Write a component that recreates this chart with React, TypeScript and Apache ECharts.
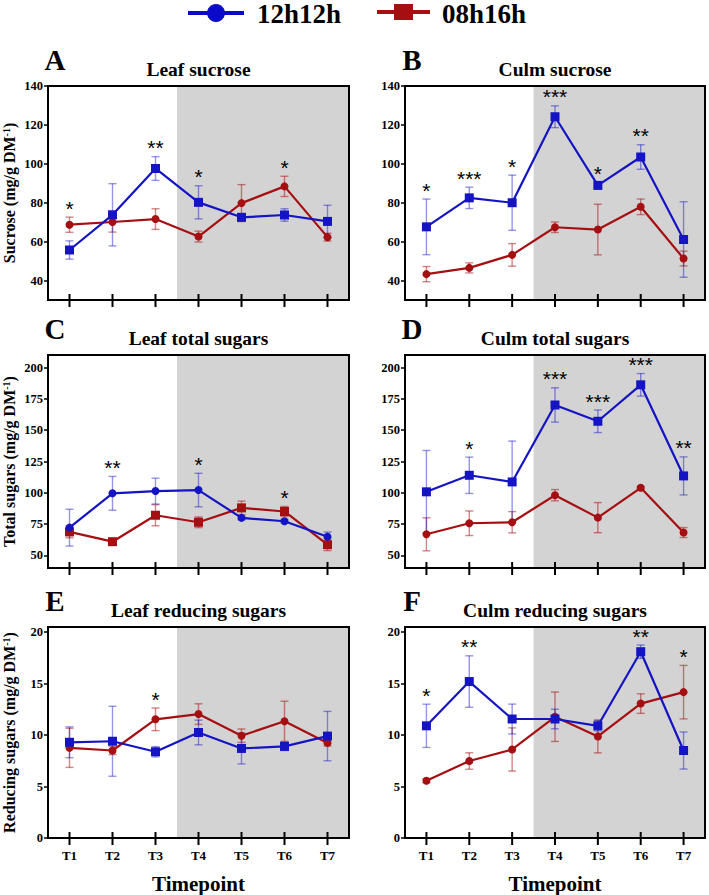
import React, { useEffect, useRef } from "react";
import * as echarts from "echarts";

const timepoints = ["T1", "T2", "T3", "T4", "T5", "T6", "T7"];
const seriesNames = ["12h12h", "08h16h"];

// A – Leaf sucrose
const leafSucrose12 = [55.7, 73.8, 97.6, 80.2, 72.5, 73.7, 70.4];
const leafSucrose12Err = [4.7, 16.0, 6.1, 8.5, 1.5, 3.2, 8.3];
const leafSucrose08 = [68.7, 70.1, 71.6, 62.6, 79.8, 88.4, 62.3];
const leafSucrose08Err = [3.9, 5.2, 5.3, 2.8, 9.5, 5.2, 2.0];
const leafSucroseSig = ["*", "", "**", "*", "", "*", ""];

// B – Culm sucrose
const culmSucrose12 = [67.6, 82.5, 80.0, 124.2, 88.9, 103.5, 61.1];
const culmSucrose12Err = [14.3, 5.5, 14.2, 5.6, 1.5, 6.3, 19.4];
const culmSucrose08 = [43.3, 46.5, 53.2, 67.4, 66.2, 77.9, 51.3];
const culmSucrose08Err = [3.9, 2.6, 5.8, 2.7, 13.0, 4.0, 3.8];
const culmSucroseSig = ["*", "***", "*", "***", "*", "**", ""];

// C – Leaf total sugars
const leafTotal12 = [72.2, 99.6, 101.4, 102.2, 80.0, 77.3, 65.0];
const leafTotal12Err = [14.7, 13.5, 10.3, 13.4, 1.5, 1.5, 3.7];
const leafTotal08 = [68.8, 61.0, 82.1, 76.5, 88.0, 85.1, 58.6];
const leafTotal08Err = [4.7, 1.5, 8.4, 4.3, 5.4, 4.0, 4.7];
const leafTotalSig = ["", "**", "", "*", "", "*", ""];

// D – Culm total sugars
const culmTotal12 = [100.8, 114.0, 108.7, 170.1, 157.1, 186.2, 113.5];
const culmTotal12Err = [33.0, 14.5, 32.6, 13.7, 9.0, 9.0, 15.2];
const culmTotal08 = [66.9, 75.7, 76.5, 98.1, 80.2, 104.0, 68.3];
const culmTotal08Err = [13.2, 9.8, 8.5, 4.5, 12.0, 1.0, 4.0];
const culmTotalSig = ["", "*", "", "***", "***", "***", "**"];

// E – Leaf reducing sugars
const leafReducing12 = [9.3, 9.4, 8.38, 10.25, 8.7, 8.9, 9.9];
const leafReducing12Err = [1.5, 3.4, 0.5, 1.2, 1.5, 0.4, 2.4];
const leafReducing08 = [8.76, 8.5, 11.53, 12.04, 9.94, 11.34, 9.24];
const leafReducing08Err = [1.9, 0.4, 1.1, 1.0, 0.65, 1.95, 0.3];
const leafReducingSig = ["", "", "*", "", "", "", ""];

// F – Culm reducing sugars
const culmReducing12 = [10.9, 15.2, 11.56, 11.56, 10.9, 18.1, 8.5];
const culmReducing12Err = [2.1, 2.5, 1.45, 0.95, 0.5, 0.65, 1.8];
const culmReducing08 = [5.57, 7.48, 8.6, 11.78, 9.87, 13.06, 14.17];
const culmReducing08Err = [0.2, 0.8, 2.1, 2.4, 1.6, 0.95, 2.6];
const culmReducingSig = ["*", "**", "", "", "", "**", "*"];

const sucroseTicks = [40, 60, 80, 100, 120, 140];
const totalTicks = [50, 75, 100, 125, 150, 175, 200];
const reducingTicks = [0, 5, 10, 15, 20];

const BLUE = "#1414c4";
const RED = "#a50f12";
const SHADE = "#d3d3d3";
const SERIF = '"Liberation Serif", "Times New Roman", serif';
const SANS = '"Liberation Sans", Arial, sans-serif';

type Panel = {
  letter: string;
  title: string;
  yName: string | null;
  blue: number[];
  blueErr: number[];
  red: number[];
  redErr: number[];
  sig: string[];
  blueSym: string;
  redSym: string;
  yMin: number;
  yMax: number;
  yTicks: number[];
  col: number;
  row: number;
};

const panels: Panel[] = [
  { letter: "A", title: "Leaf sucrose", yName: "Sucrose (mg/g DM{sup|-1})", blue: leafSucrose12, blueErr: leafSucrose12Err, red: leafSucrose08, redErr: leafSucrose08Err, sig: leafSucroseSig, blueSym: "rect", redSym: "circle", yMin: 30, yMax: 140, yTicks: sucroseTicks, col: 0, row: 0 },
  { letter: "B", title: "Culm sucrose", yName: null, blue: culmSucrose12, blueErr: culmSucrose12Err, red: culmSucrose08, redErr: culmSucrose08Err, sig: culmSucroseSig, blueSym: "rect", redSym: "circle", yMin: 30, yMax: 140, yTicks: sucroseTicks, col: 1, row: 0 },
  { letter: "C", title: "Leaf total sugars", yName: "Total sugars (mg/g DM{sup|-1})", blue: leafTotal12, blueErr: leafTotal12Err, red: leafTotal08, redErr: leafTotal08Err, sig: leafTotalSig, blueSym: "circle", redSym: "rect", yMin: 40, yMax: 210, yTicks: totalTicks, col: 0, row: 1 },
  { letter: "D", title: "Culm total sugars", yName: null, blue: culmTotal12, blueErr: culmTotal12Err, red: culmTotal08, redErr: culmTotal08Err, sig: culmTotalSig, blueSym: "rect", redSym: "circle", yMin: 40, yMax: 210, yTicks: totalTicks, col: 1, row: 1 },
  { letter: "E", title: "Leaf reducing sugars", yName: "Reducing sugars (mg/g DM{sup|-1})", blue: leafReducing12, blueErr: leafReducing12Err, red: leafReducing08, redErr: leafReducing08Err, sig: leafReducingSig, blueSym: "rect", redSym: "circle", yMin: 0, yMax: 20.5, yTicks: reducingTicks, col: 0, row: 2 },
  { letter: "F", title: "Culm reducing sugars", yName: null, blue: culmReducing12, blueErr: culmReducing12Err, red: culmReducing08, redErr: culmReducing08Err, sig: culmReducingSig, blueSym: "rect", redSym: "circle", yMin: 0, yMax: 20.5, yTicks: reducingTicks, col: 1, row: 2 },
];

const colLeft = [48, 405];
const colWidth = [301, 300];
const rowTop = [86, 355, 627];
const rowHeight = [214, 213, 215];

function buildOption() {
  const grid: any[] = [];
  const xAxis: any[] = [];
  const yAxis: any[] = [];
  const series: any[] = [];
  const graphic: any[] = [];
  const xs = timepoints.map((_, i) => i + 1);

  panels.forEach((p, gi) => {
    const left = colLeft[p.col];
    const top = rowTop[p.row];
    const width = colWidth[p.col];
    const height = rowHeight[p.row];
    const bottomRow = p.row === 2;
    grid.push({ left, top, width, height, show: true, borderColor: "#000", borderWidth: 2, backgroundColor: "transparent", z: 10 });
    xAxis.push({
      gridIndex: gi,
      type: "value",
      min: 0.5,
      max: 7.5,
      splitLine: { show: false },
      axisLine: { show: true, lineStyle: { color: "#000", width: 2 } },
      axisTick: { show: false },
      axisLabel: {
        show: bottomRow,
        customValues: xs,
        formatter: (v: number) => timepoints[Math.round(v) - 1],
        fontFamily: SERIF,
        fontWeight: "bold",
        fontSize: 13,
        color: "#000",
        margin: 11,
      },
      name: bottomRow ? "Timepoint" : "",
      nameLocation: "middle",
      nameGap: 35,
      nameTextStyle: { fontFamily: SERIF, fontWeight: "bold", fontSize: 21, color: "#000" },
    });
    yAxis.push({
      gridIndex: gi,
      type: "value",
      min: p.yMin,
      max: p.yMax,
      splitLine: { show: false },
      axisLine: { show: true, lineStyle: { color: "#000", width: 2 } },
      axisTick: { show: true, customValues: p.yTicks, length: 4, lineStyle: { color: "#000", width: 1.5 } },
      axisLabel: { customValues: p.yTicks, fontFamily: SERIF, fontWeight: "bold", fontSize: 12.5, color: "#000", margin: 5 },
      name: p.yName || "",
      nameLocation: "middle",
      nameGap: 31,
      nameTextStyle: {
        fontFamily: SERIF,
        fontWeight: "bold",
        fontSize: 16,
        color: "#000",
        rich: { sup: { fontFamily: SERIF, fontWeight: "bold", fontSize: 10, color: "#000", verticalAlign: "top" } },
      },
    });

    // shaded region
    series.push({
      type: "line",
      xAxisIndex: gi,
      yAxisIndex: gi,
      data: [[1, p.yMin]],
      symbol: "none",
      lineStyle: { opacity: 0 },
      silent: true,
      z: 1,
      markArea: {
        silent: true,
        itemStyle: { color: SHADE },
        data: [[{ xAxis: 3.5 }, { xAxis: 7.5 }]],
      },
    });

    const errSeries = (vals: number[], errs: number[], color: string, opacity: number) => ({
      type: "custom",
      xAxisIndex: gi,
      yAxisIndex: gi,
      silent: true,
      z: 3,
      data: vals.map((v, i) => [i + 1, v, errs[i]]),
      encode: { x: 0, y: 1 },
      renderItem: (params: any, api: any) => {
        const x = api.value(0);
        const y = api.value(1);
        const e = api.value(2);
        const t = api.coord([x, y + e]);
        const b = api.coord([x, y - e]);
        const hw = 4;
        const st = { stroke: color, lineWidth: 1.4, opacity };
        return {
          type: "group",
          children: [
            { type: "line", shape: { x1: t[0], y1: t[1], x2: b[0], y2: b[1] }, style: st },
            { type: "line", shape: { x1: t[0] - hw, y1: t[1], x2: t[0] + hw, y2: t[1] }, style: st },
            { type: "line", shape: { x1: b[0] - hw, y1: b[1], x2: b[0] + hw, y2: b[1] }, style: st },
          ],
        };
      },
    });
    series.push(errSeries(p.red, p.redErr, RED, 0.5));
    series.push(errSeries(p.blue, p.blueErr, BLUE, 0.45));

    series.push({
      type: "line",
      name: seriesNames[1],
      xAxisIndex: gi,
      yAxisIndex: gi,
      data: p.red.map((v, i) => [i + 1, v]),
      symbol: p.redSym,
      symbolSize: p.redSym === "rect" ? 9 : 8,
      lineStyle: { color: RED, width: 2.2 },
      itemStyle: { color: RED },
      z: 4,
    });
    series.push({
      type: "line",
      name: seriesNames[0],
      xAxisIndex: gi,
      yAxisIndex: gi,
      data: p.blue.map((v, i) => [i + 1, v]),
      symbol: p.blueSym,
      symbolSize: p.blueSym === "rect" ? 9 : 8,
      lineStyle: { color: BLUE, width: 2.2 },
      itemStyle: { color: BLUE },
      z: 5,
    });

    // significance stars
    const sigData = p.sig.map((s, i) => [i + 1, Math.max(p.blue[i] + p.blueErr[i], p.red[i] + p.redErr[i])]);
    series.push({
      type: "custom",
      xAxisIndex: gi,
      yAxisIndex: gi,
      silent: true,
      z: 6,
      data: sigData,
      encode: { x: 0, y: 1 },
      renderItem: (params: any, api: any) => {
        const s = p.sig[params.dataIndex];
        if (!s) return null;
        const c = api.coord([api.value(0), api.value(1)]);
        return {
          type: "text",
          x: c[0],
          y: c[1] - 9,
          style: { text: s, fontFamily: SANS, fontSize: 21, fill: "#000", align: "center", verticalAlign: "middle" },
        };
      },
    });

    // crossing x ticks
    series.push({
      type: "custom",
      xAxisIndex: gi,
      yAxisIndex: gi,
      silent: true,
      z: 11,
      data: xs.map((x) => [x, p.yMin]),
      encode: { x: 0, y: 1 },
      renderItem: (params: any, api: any) => {
        const c = api.coord([api.value(0), api.value(1)]);
        return {
          type: "line",
          shape: { x1: c[0], y1: c[1] - 6, x2: c[0], y2: c[1] + 7 },
          style: { stroke: "#000", lineWidth: 2 },
        };
      },
    });

    // titles and letters
    graphic.push({
      type: "text",
      x: left + width / 2,
      y: top - 17,
      style: { text: p.title, fontFamily: SERIF, fontWeight: "bold", fontSize: 19.5, fill: "#000", align: "center", verticalAlign: "middle" },
    });
    graphic.push({
      type: "text",
      x: left + 7,
      y: top - 26,
      style: { text: p.letter, fontFamily: SERIF, fontWeight: "bold", fontSize: 29, fill: "#000", align: "center", verticalAlign: "middle" },
    });
  });

  // legend
  graphic.push(
    { type: "line", shape: { x1: 188, y1: 13, x2: 244, y2: 13 }, style: { stroke: "#0a0ac8", lineWidth: 4 } },
    { type: "circle", shape: { cx: 216, cy: 13, r: 9 }, style: { fill: "#0a0ac8" } },
    { type: "text", x: 257, y: 14, style: { text: seriesNames[0], fontFamily: SERIF, fontWeight: "bold", fontSize: 27, fill: "#000", align: "left", verticalAlign: "middle" } },
    { type: "line", shape: { x1: 377, y1: 12, x2: 430, y2: 12 }, style: { stroke: RED, lineWidth: 4 } },
    { type: "rect", shape: { x: 394, y: 4, width: 19, height: 16 }, style: { fill: RED } },
    { type: "text", x: 442, y: 14, style: { text: seriesNames[1], fontFamily: SERIF, fontWeight: "bold", fontSize: 27, fill: "#000", align: "left", verticalAlign: "middle" } }
  );

  return {
    animation: false,
    backgroundColor: "#fff",
    grid,
    xAxis,
    yAxis,
    series,
    graphic,
  };
}

export default function App() {
  const ref = useRef<HTMLDivElement>(null);
  useEffect(() => {
    if (!ref.current) return;
    const chart = echarts.init(ref.current, null, { renderer: "svg" });
    chart.setOption(buildOption() as any);
    return () => chart.dispose();
  }, []);
  return <div ref={ref} style={{ position: "fixed", left: 0, top: 0, width: 709, height: 895 }} />;
}
